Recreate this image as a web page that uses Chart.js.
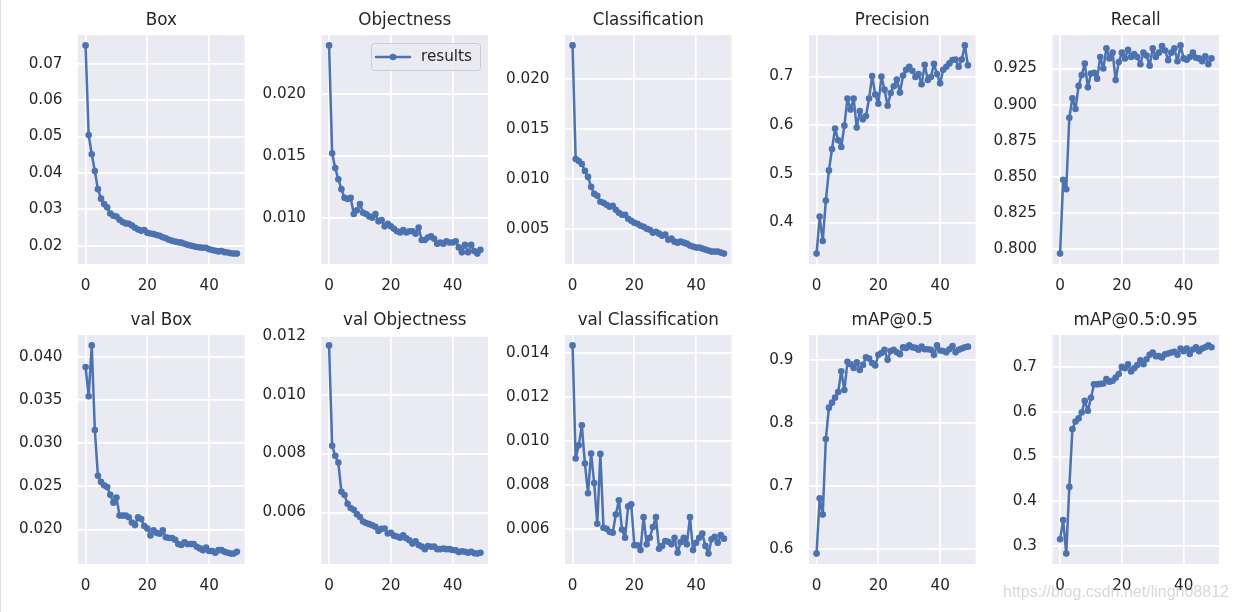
<!DOCTYPE html>
<html>
<head>
<meta charset="utf-8">
<script src="https://cdn.jsdelivr.net/npm/chart.js@4.4.1/dist/chart.umd.min.js"></script>
<style>
  html, body { margin: 0; padding: 0; background: #ffffff; }
  body { width: 1237px; height: 612px; overflow: hidden; position: relative; }
  canvas.cell { position: absolute; left: 0; top: 0; }
  #edge { position: absolute; left: 0; top: 0; width: 1px; height: 612px; background: #dcdcdc; }
  #wm { position: absolute; left: 1003px; top: 584px; font: 16px 'Liberation Sans', Arial, sans-serif;
        line-height: 16px; color: rgba(175,175,175,0.5); white-space: nowrap; z-index: 5; }
</style>
</head>
<body>
<div id="edge"></div>
<div id="wm">https://blog.csdn.net/lingh08812</div>
<script>
// ---------------- DATA ----------------
const epochs = [0,1,2,3,4,5,6,7,8,9,10,11,12,13,14,15,16,17,18,19,20,21,22,23,24,25,26,27,28,29,30,31,32,33,34,35,36,37,38,39,40,41,42,43,44,45,46,47,48,49];

const titles = ['Box','Objectness','Classification','Precision','Recall',
                'val Box','val Objectness','val Classification','mAP@0.5','mAP@0.5:0.95'];

const box = [0.0750,0.0504,0.0451,0.0405,0.0355,0.0329,0.0314,0.0305,0.0288,0.0282,
             0.0280,0.0271,0.0265,0.0261,0.0260,0.0255,0.0249,0.0244,0.0241,0.0243,
             0.0235,0.0233,0.0232,0.0229,0.0227,0.0223,0.0220,0.0216,0.0213,0.0211,
             0.0209,0.0208,0.0205,0.0202,0.0200,0.0198,0.0196,0.0195,0.0194,0.0194,
             0.0190,0.0188,0.0186,0.0184,0.0185,0.0182,0.0181,0.0179,0.0178,0.0178];

const objectness = [0.0239,0.0152,0.0140,0.0131,0.0123,0.0116,0.0115,0.0116,0.0103,0.0106,
                    0.0111,0.0104,0.0103,0.0101,0.0100,0.0103,0.0097,0.0098,0.0093,0.0095,
                    0.0093,0.0091,0.0089,0.0088,0.0090,0.0088,0.0089,0.0089,0.0087,0.0092,
                    0.0082,0.0082,0.0084,0.0085,0.0083,0.0079,0.0080,0.0079,0.0081,0.0080,
                    0.0080,0.0081,0.0076,0.0072,0.0078,0.0072,0.0078,0.0073,0.0071,0.0074];

const classification = [0.0234,0.0120,0.0118,0.0115,0.0108,0.0102,0.0092,0.0085,0.0083,0.0077,
                        0.0076,0.0074,0.0072,0.0073,0.0069,0.0066,0.0064,0.0064,0.0060,0.0058,
                        0.0056,0.0055,0.0053,0.0052,0.0050,0.0049,0.0046,0.0047,0.0045,0.0043,
                        0.0044,0.0039,0.0040,0.0037,0.0036,0.0037,0.0036,0.0035,0.0033,0.0032,
                        0.0031,0.0031,0.0030,0.0029,0.0028,0.0027,0.0027,0.0027,0.0026,0.0025];

const precision = [0.336,0.412,0.362,0.445,0.507,0.551,0.593,0.569,0.555,0.599,
                   0.655,0.632,0.655,0.595,0.629,0.612,0.619,0.655,0.701,0.663,
                   0.644,0.700,0.673,0.640,0.666,0.680,0.694,0.667,0.702,0.714,
                   0.720,0.712,0.699,0.705,0.684,0.724,0.693,0.699,0.726,0.705,
                   0.686,0.714,0.720,0.727,0.734,0.735,0.720,0.735,0.764,0.723];

const recall = [0.797,0.848,0.8415,0.891,0.9045,0.897,0.913,0.9205,0.9285,0.912,
                0.9215,0.922,0.918,0.933,0.925,0.939,0.932,0.936,0.917,0.9295,
                0.936,0.932,0.938,0.933,0.935,0.933,0.928,0.936,0.934,0.927,
                0.939,0.933,0.936,0.9405,0.9375,0.9307,0.936,0.939,0.930,0.941,
                0.932,0.931,0.933,0.936,0.9325,0.932,0.930,0.9335,0.928,0.932];

const valBox = [0.0388,0.0354,0.0413,0.0315,0.0262,0.0255,0.0251,0.0249,0.0240,0.0231,
                0.0237,0.0216,0.0216,0.0216,0.0214,0.0208,0.0205,0.0214,0.0212,0.0204,
                0.0201,0.0193,0.0199,0.0196,0.0195,0.0199,0.0191,0.0190,0.0190,0.0188,
                0.0183,0.0182,0.0185,0.0183,0.0183,0.0183,0.0180,0.0178,0.0176,0.0179,
                0.0175,0.0175,0.0173,0.0176,0.0176,0.0174,0.0173,0.0172,0.0172,0.0174];

const valObjectness = [0.01167,0.00826,0.00792,0.00769,0.00670,0.00659,0.00629,0.00615,0.00609,0.00594,
                       0.00584,0.00569,0.00564,0.00560,0.00556,0.00551,0.00537,0.00544,0.00545,0.00528,
                       0.00531,0.00521,0.00518,0.00514,0.00522,0.00512,0.00505,0.00494,0.00502,0.00489,
                       0.00484,0.00475,0.00486,0.00483,0.00484,0.00475,0.00475,0.00477,0.00475,0.00475,
                       0.00472,0.00471,0.00465,0.00468,0.00466,0.00463,0.00466,0.00461,0.00460,0.00463];

const valClassification = [0.01435,0.00920,0.00980,0.01071,0.00897,0.00762,0.00943,0.00808,0.00623,0.00941,
                           0.00605,0.00600,0.00586,0.00582,0.00665,0.00730,0.00597,0.00559,0.00702,0.00712,
                           0.00525,0.00525,0.00503,0.00653,0.00529,0.00559,0.00608,0.00653,0.00509,0.00522,
                           0.00544,0.00541,0.00529,0.00559,0.00491,0.00539,0.00559,0.00529,0.00653,0.00503,
                           0.00536,0.00559,0.00578,0.00522,0.00487,0.00552,0.00564,0.00536,0.00571,0.00555];

const mAP50 = [0.592,0.680,0.654,0.774,0.824,0.832,0.840,0.849,0.882,0.852,
               0.897,0.893,0.887,0.896,0.884,0.892,0.904,0.902,0.895,0.891,
               0.908,0.911,0.916,0.900,0.914,0.916,0.912,0.909,0.920,0.919,
               0.923,0.920,0.919,0.916,0.921,0.917,0.917,0.916,0.908,0.923,
               0.915,0.914,0.912,0.917,0.922,0.912,0.916,0.918,0.920,0.921];

const mAP5095 = [0.315,0.358,0.283,0.432,0.561,0.578,0.585,0.598,0.624,0.602,
                 0.631,0.661,0.661,0.662,0.663,0.673,0.667,0.669,0.676,0.684,
                 0.700,0.697,0.706,0.690,0.697,0.704,0.715,0.706,0.717,0.727,
                 0.732,0.724,0.724,0.721,0.728,0.730,0.732,0.734,0.727,0.741,
                 0.735,0.741,0.729,0.739,0.744,0.735,0.741,0.744,0.748,0.744];

const yStep = [0.01, 0.005, 0.005, 0.1, 0.025, 0.005, 0.002, 0.002, 0.1, 0.1];
const yDecimals = [2, 3, 3, 1, 3, 3, 3, 3, 1, 1];
const xTicks = [0, 20, 40];

const seriesList = [box, objectness, classification, precision, recall,
                    valBox, valObjectness, valClassification, mAP50, mAP5095];

// ---------------- LAYOUT ----------------
const W = 1237, H = 612;
const plotLefts = [78, 321.5, 565, 809, 1052.5];
const plotW = 166.5;
const plotTops = [35, 335];
const plotH = 229;
const Y_AXIS_W = 80, X_AXIS_H = 34;
const TICK_SIZE = 15.2;
const TITLE_SIZE = 16.8, TITLE_PAD = 4;
const TITLE_H = TITLE_SIZE * 1.2 + TITLE_PAD;
const LINE = '#4C72B0', BG = '#EAEAF2', TXT = '#262626';
const FONT = "'DejaVu Sans', 'Noto Sans', sans-serif";

const bgPlugin = {
  id: 'bgPlugin',
  beforeDraw(chart) {
    const a = chart.chartArea, c = chart.ctx;
    c.save(); c.fillStyle = BG; c.fillRect(a.left, a.top, a.right - a.left, a.bottom - a.top); c.restore();
  }
};

const legendPlugin = {
  id: 'boxLegend',
  afterDraw(chart, args, opts) {
    if (!opts || !opts.show) return;
    const a = chart.chartArea, c = chart.ctx;
    const bw = 109, bh = 27;
    const bx = a.right - 8 - bw, by = a.top + 8;
    c.save();
    c.beginPath();
    if (c.roundRect) c.roundRect(bx + 0.5, by + 0.5, bw, bh, 3); else c.rect(bx + 0.5, by + 0.5, bw, bh);
    c.fillStyle = 'rgba(234,234,242,0.85)'; c.fill();
    c.lineWidth = 1; c.strokeStyle = '#CCCCCC'; c.stroke();
    const ly = by + bh / 2 + 0.5;
    c.beginPath(); c.moveTo(bx + 5, ly); c.lineTo(bx + 39, ly);
    c.strokeStyle = LINE; c.lineWidth = 2.5; c.lineCap = 'round'; c.stroke();
    c.beginPath(); c.arc(bx + 22, ly, 3.3, 0, Math.PI * 2); c.fillStyle = LINE; c.fill();
    c.fillStyle = TXT; c.font = TICK_SIZE + 'px ' + FONT; c.textBaseline = 'middle'; c.textAlign = 'left';
    c.fillText(chart.data.datasets[0].label, bx + 50, ly);
    c.restore();
  }
};

seriesList.forEach((vals, i) => {
  const row = Math.floor(i / 5), col = i % 5;
  const pl = plotLefts[col], pt = plotTops[row];
  const cv = document.createElement('canvas');
  cv.className = 'cell'; cv.width = W; cv.height = H;
  cv.style.width = W + 'px'; cv.style.height = H + 'px';
  document.body.appendChild(cv);

  const lo = Math.min(...vals), hi = Math.max(...vals), r = hi - lo;
  const dec = yDecimals[i];

  new Chart(cv, {
    type: 'line',
    data: {
      datasets: [{
        label: 'results',
        data: epochs.map((e, k) => ({ x: e, y: vals[k] })),
        borderColor: LINE, backgroundColor: LINE,
        borderWidth: 2.5, pointRadius: 3.3, pointBorderWidth: 0,
        borderJoinStyle: 'round', borderCapStyle: 'round',
        pointBackgroundColor: LINE, tension: 0, clip: false
      }]
    },
    options: {
      responsive: false, animation: false, devicePixelRatio: 1,
      events: [],
      layout: {
        padding: {
          left: pl - Y_AXIS_W,
          right: W - (pl + plotW),
          top: pt - TITLE_H,
          bottom: H - (pt + plotH) - X_AXIS_H
        }
      },
      scales: {
        x: {
          type: 'linear', min: -2.45, max: 51.45,
          afterFit(s) { s.height = X_AXIS_H; },
          afterBuildTicks(s) { s.ticks = xTicks.map(v => ({ value: v })); },
          border: { display: false },
          grid: { color: '#ffffff', lineWidth: 1.7, drawTicks: false },
          ticks: { color: TXT, padding: 12.5, font: { family: FONT, size: TICK_SIZE }, maxRotation: 0,
                   callback: v => String(v) }
        },
        y: {
          type: 'linear', min: lo - 0.05 * r, max: hi + 0.05 * r,
          afterFit(s) { s.width = Y_AXIS_W; },
          border: { display: false },
          grid: { color: '#ffffff', lineWidth: 1.7, drawTicks: false },
          ticks: { color: TXT, padding: 15.5, stepSize: yStep[i], includeBounds: false,
                   font: { family: FONT, size: TICK_SIZE },
                   callback: v => Number(v).toFixed(dec) }
        }
      },
      plugins: {
        legend: { display: false },
        tooltip: { enabled: false },
        title: {
          display: true, text: titles[i], fullSize: false, color: TXT,
          font: { family: FONT, size: TITLE_SIZE, weight: 'normal' },
          padding: { top: 0, bottom: TITLE_PAD }
        },
        boxLegend: { show: i === 1 }
      }
    },
    plugins: [bgPlugin, legendPlugin]
  });
});
</script>
</body>
</html>
